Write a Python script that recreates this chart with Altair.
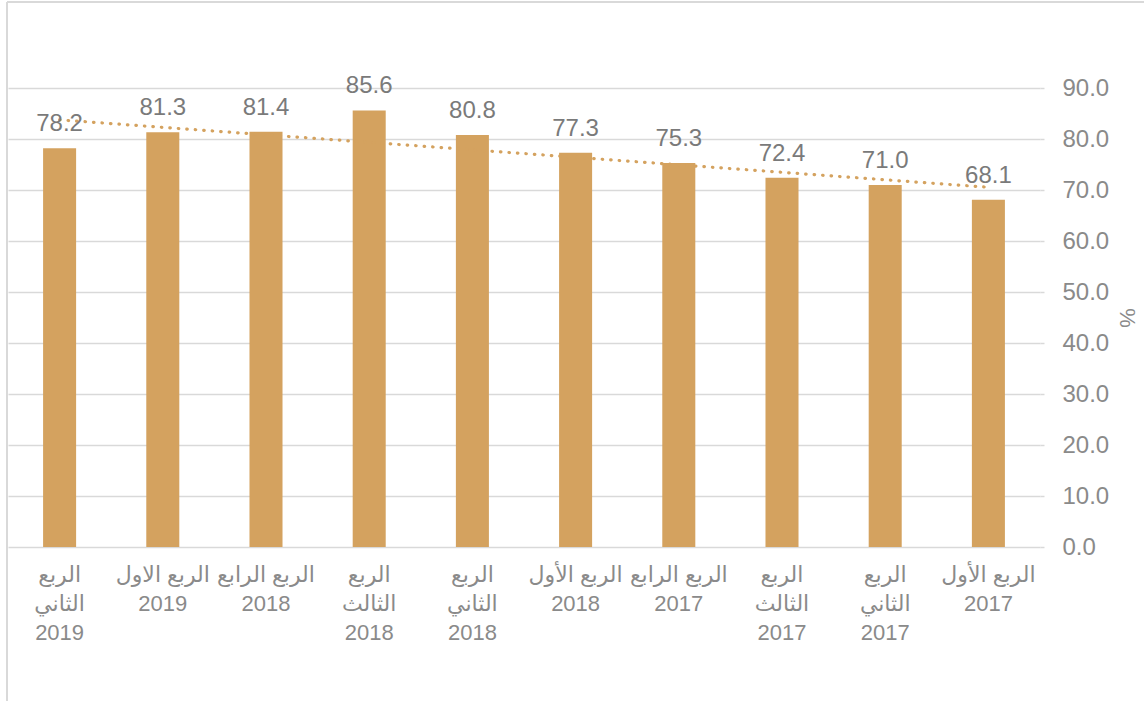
import altair as alt
import pandas as pd

# display order (left to right, RTL chart)
labels = [
    "الربع\nالثاني\n2019",
    "الربع الاول\n2019",
    "الربع الرابع\n2018",
    "الربع\nالثالث\n2018",
    "الربع\nالثاني\n2018",
    "الربع الأول\n2018",
    "الربع الرابع\n2017",
    "الربع\nالثالث\n2017",
    "الربع\nالثاني\n2017",
    "الربع الأول\n2017",
]
values = [78.2, 81.3, 81.4, 85.6, 80.8, 77.3, 75.3, 72.4, 71.0, 68.1]
order = list(range(1, len(labels) + 1))

df = pd.DataFrame({"label": labels, "value": values, "idx": order})

GOLD = "#D4A25F"
GRAY = "#7a7a7a"
LGRAY = "#8a8a8a"
GRID = "#d9d9d9"

xenc = alt.X(
    "label:N",
    sort=labels,
    scale=alt.Scale(paddingInner=0.68, paddingOuter=0.34),
    axis=alt.Axis(
        title=None,
        labelAngle=0,
        labelExpr="split(datum.label, '\\n')",
        labelFont="Liberation Sans, DejaVu Sans",
        labelFontSize=22,
        labelColor=LGRAY,
        labelLineHeight=29,
        labelPadding=17,
        labelBaseline="top",
        labelOverlap=False,
        labelBound=False,
        labelLimit=0,
        ticks=False,
        domain=False,
    ),
)

yenc = alt.Y(
    "value:Q",
    scale=alt.Scale(domain=[0, 90], nice=False),
    axis=alt.Axis(
        orient="right",
        title="%",
        titleFont="Liberation Sans",
        titleFontSize=22,
        titleFontWeight="normal",
        titleColor=LGRAY,
        titlePadding=6,
        values=[0, 10, 20, 30, 40, 50, 60, 70, 80, 90],
        format=".1f",
        labelFont="Liberation Sans",
        labelFontSize=24,
        labelColor=LGRAY,
        labelPadding=18,
        tickSize=4,
        tickColor=GRID,
        tickWidth=1.5,
        grid=True,
        gridColor=GRID,
        gridWidth=1.5,
        domain=False,
    ),
)

base = alt.Chart(df)

bars = base.mark_bar(color=GOLD).encode(x=xenc, y=yenc)

trend = (
    base.transform_regression("idx", "value")
    .transform_lookup(lookup="idx", from_=alt.LookupData(data=df, key="idx", fields=["label"]))
    .mark_line(color=GOLD, strokeWidth=3.2, strokeDash=[0.5, 8], strokeCap="round")
    .encode(x=alt.X("label:N", sort=labels), y=alt.Y("value:Q"))
)

text = base.mark_text(
    baseline="alphabetic", dy=-17, font="Liberation Sans", fontSize=24, color=GRAY
).encode(x=alt.X("label:N", sort=labels), y=alt.Y("value:Q"), text=alt.Text("value:Q", format=".1f"))

border_left = base.mark_rule(color=GRID, strokeWidth=1.5).encode(
    x=alt.value(-1), y=alt.value(-86), y2=alt.value(620)
)
border_top = base.mark_rule(color=GRID, strokeWidth=1.5).encode(
    x=alt.value(-1), x2=alt.value(1140), y=alt.value(-86)
)

chart = (
    alt.layer(border_left, border_top, bars, trend, text)
    .properties(
        width=1032,
        height=459,
        padding={"left": 8, "top": 88, "right": 104, "bottom": 154},
        autosize=alt.AutoSizeParams(type="none"),
        background="white",
    )
    .configure_view(stroke=None)
)

chart.save("out.html", embed_options={"renderer": "svg", "actions": False})
